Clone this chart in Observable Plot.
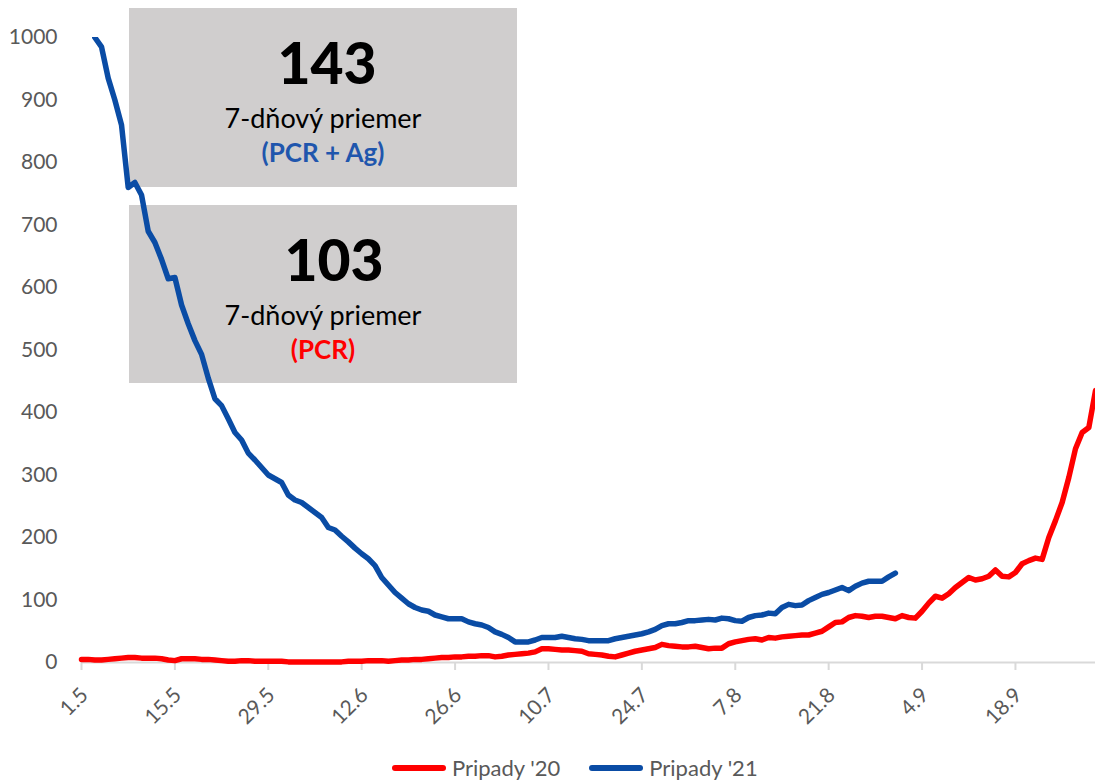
<!DOCTYPE html>
<html>
<head>
<meta charset="utf-8">
<script src="https://cdn.jsdelivr.net/npm/d3@7"></script>
<script src="https://cdn.jsdelivr.net/npm/@observablehq/plot@0.6"></script>
<style>
  html, body { margin: 0; padding: 0; background: #fff; }
  #wrap { position: relative; width: 1095px; height: 782px; font-family: Lato, sans-serif; }
  #bg { position: absolute; left: 0; top: 0; z-index: 0; }
  #chart { position: absolute; left: 0; top: 0; z-index: 1; }
  #legend { position: absolute; left: 392px; top: 754px; display: flex; align-items: center; font-size: 22px; color: #595959; z-index: 2; }
  .sw { display: inline-block; width: 54px; height: 6px; border-radius: 3px; margin-right: 6px; }
  .item { display: flex; align-items: center; margin-right: 29px; }
</style>
</head>
<body>
<div id="wrap">
  <svg id="bg" width="1095" height="400"></svg>
  <div id="chart"></div>
  <div id="legend"></div>
</div>
<script>
// ---- data (7-day averages, one value per day from 1.5) ----
const startDate = "2021-05-01";
const endDate = "2021-09-30";
const seriesNames = ["Pripady '20", "Pripady '21"];
const seriesColors = ["#ff0000", "#0a4ca5"];

const cases20 = [
  5,5,4,4,5,6,7,8,8,7,
  7,7,6,4,3,6,6,6,5,5,
  4,3,2,2,3,3,2,2,2,2,
  2,1,1,1,1,1,1,1,1,1,
  2,2,2,3,3,3,2,3,4,4,
  5,5,6,7,8,8,9,9,10,10,
  11,11,9,10,12,13,14,15,17,22,
  22,21,20,20,19,18,14,13,12,10,
  9,12,15,18,20,22,24,29,27,26,
  25,25,26,24,22,23,23,30,33,35,
  37,38,36,40,39,41,42,43,44,44,
  47,50,57,64,65,72,75,74,72,74,
  74,72,70,75,72,71,82,95,106,103,
  110,120,128,136,132,134,138,148,138,137,
  144,158,163,167,165,200,227,256,296,342,
  368,376,435
];

const cases21 = [
  1090,1045,1000,985,935,900,860,760,768,748,
  690,672,645,614,616,572,542,515,493,455,
  422,411,390,368,356,335,324,312,300,294,
  288,268,260,256,248,240,232,216,212,202,
  193,183,174,166,155,136,124,112,103,94,
  88,84,82,76,73,70,70,70,65,62,
  60,56,49,45,40,33,33,33,36,40,
  40,40,42,40,38,37,35,35,35,35,
  38,40,42,44,46,49,53,59,62,62,
  64,67,67,68,69,68,71,70,67,66,
  72,75,76,79,78,88,93,91,92,99,
  104,109,112,116,120,115,122,127,130,130,
  130,137,143
];

const tickDates = ["2021-05-01","2021-05-15","2021-05-29","2021-06-12","2021-06-26","2021-07-10","2021-07-24","2021-08-07","2021-08-21","2021-09-04","2021-09-18"];
const tickLabels = ["1.5","15.5","29.5","12.6","26.6","10.7","24.7","7.8","21.8","4.9","18.9"];
const yTicks = [0,100,200,300,400,500,600,700,800,900,1000];

const avgPcrAg = cases21[cases21.length - 1];
const avgPcr = 103;
const boxLabel = "7-dňový priemer";
const boxTags = ["(PCR + Ag)", "(PCR)"];

// ---- build tables ----
const t0 = new Date(startDate);
const toRows = arr => arr.map((v, i) => ({date: d3.utcDay.offset(t0, i), value: v}));
const rows20 = toRows(cases20);
const rows21 = toRows(cases21);
const ticks = tickDates.map(d => new Date(d));
const labelOf = new Map(ticks.map((d, i) => [+d, tickLabels[i]]));

const chart = Plot.plot({
  width: 1095,
  height: 740,
  marginLeft: 81,
  marginRight: 0,
  marginTop: 37,
  marginBottom: 78,
  style: {background: "transparent", fontFamily: "Lato, sans-serif", fontSize: "21px", color: "#595959", overflow: "visible"},
  x: {type: "utc", domain: [t0, new Date(endDate)]},
  y: {domain: [0, 1000]},
  marks: [
    Plot.ruleY([0], {stroke: "#d9d9d9", strokeWidth: 2}),
    Plot.axisY({ticks: yTicks, tickFormat: d3.format("d"), tickSize: 0, tickPadding: 24, label: null, fill: "#595959", fontSize: 21}),
    Plot.axisX({ticks, tickSize: 8, stroke: "#d9d9d9", strokeWidth: 2, tickFormat: null, text: null, label: null}),
    Plot.axisX({ticks, tickFormat: d => labelOf.get(+d), tickRotate: -45, tickSize: 0, fill: "#595959", label: null, fontSize: 21, tickPadding: 4, dy: 25, dx: 3}),
    Plot.lineY(rows20, {x: "date", y: "value", stroke: seriesColors[0], strokeWidth: 5.5, strokeLinejoin: "round", strokeLinecap: "round"}),
    Plot.lineY(rows21, {x: "date", y: "value", stroke: seriesColors[1], strokeWidth: 5.5, strokeLinejoin: "round", strokeLinecap: "round", clip: true})
  ]
});
document.getElementById("chart").appendChild(chart);

// ---- annotation boxes (behind the lines) ----
const bg = d3.select("#bg");
const boxes = [
  {top: 8, h: 179, big: d3.format("d")(avgPcrAg), bigX: 327, tag: boxTags[0], tagColor: "#1f56ad"},
  {top: 205, h: 178, big: d3.format("d")(avgPcr), bigX: 334, tag: boxTags[1], tagColor: "#ff0000"}
];
boxes.forEach(b => {
  bg.append("rect").attr("x", 129).attr("y", b.top).attr("width", 388).attr("height", b.h).attr("fill", "#d0cece");
  bg.append("text").attr("x", b.bigX).attr("y", b.top + 76).attr("text-anchor", "middle")
    .attr("font-family", "Lato, sans-serif").attr("font-weight", 900).attr("font-size", 57).attr("fill", "#000").text(b.big);
  bg.append("text").attr("x", 323).attr("y", b.top + 120).attr("text-anchor", "middle")
    .attr("font-family", "Lato, sans-serif").attr("font-size", 27).attr("fill", "#000").text(boxLabel);
  bg.append("text").attr("x", 323).attr("y", b.top + 154).attr("text-anchor", "middle")
    .attr("font-family", "Lato, sans-serif").attr("font-weight", 700).attr("font-size", 26).attr("fill", b.tagColor).text(b.tag);
});

// ---- legend ----
const legend = d3.select("#legend");
seriesNames.forEach((n, i) => {
  const it = legend.append("div").attr("class", "item");
  it.append("span").attr("class", "sw").style("background", seriesColors[i]);
  it.append("span").text(n);
});
</script>
</body>
</html>
